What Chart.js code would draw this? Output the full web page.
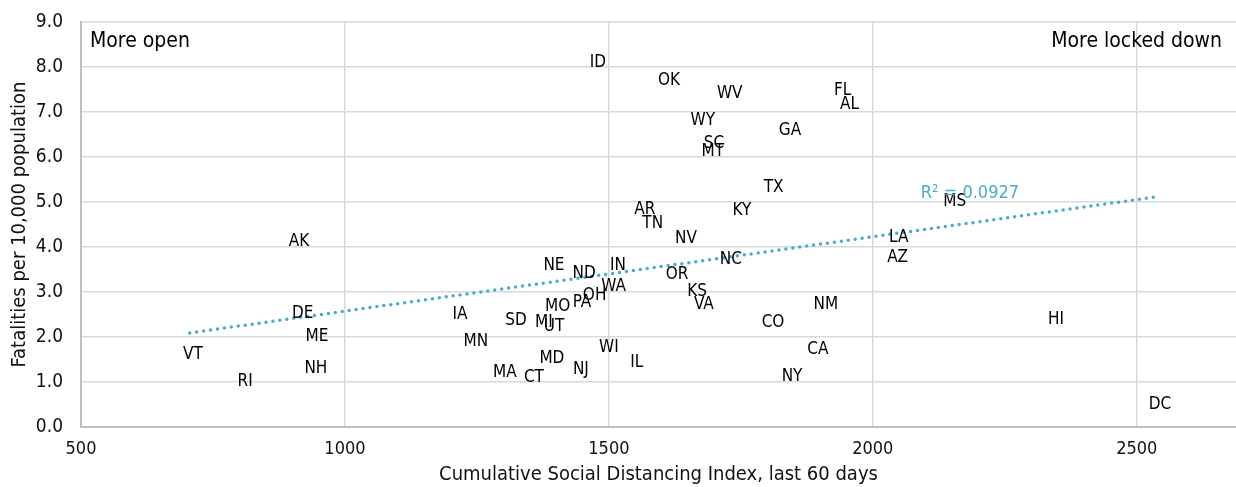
<!DOCTYPE html>
<html>
<head>
<meta charset="utf-8">
<script src="https://cdn.jsdelivr.net/npm/chart.js@4.4.1/dist/chart.umd.min.js"></script>
<style>
  html, body { margin: 0; padding: 0; background: #fff; }
  #wrap { width: 1236px; height: 487px; position: relative; }
</style>
</head>
<body>
<div id="wrap"><canvas id="chart"></canvas></div>
<script>
// State labels, cumulative social distancing index (x), fatalities per 10k (y)
const states = ["ID","OK","WV","WY","SC","MT","GA","FL","AL","TX","KY","AR","TN","NV","MS","LA","AZ","AK",
  "NE","ND","IN","NC","OR","WA","OH","PA","MO","MI","UT","SD","IA","KS","VA","CO","NM","CA","NY","HI","DC",
  "MN","MA","CT","MD","NJ","WI","IL","VT","RI","DE","ME","NH"];
const distIndex = [1479,1614,1729,1678,1699,1697,1843,1943,1956,1812,1752,1568,1583,1646,2155,2049,2047,913,
  1396,1453,1517,1731,1629,1509,1473,1449,1403,1377,1396,1324,1218,1667,1680,1811,1911,1896,1847,2347,2544,
  1248,1303,1358,1392,1447,1500,1553,712,811,920,947,945];
const fatalities = [8.09,7.69,7.40,6.82,6.29,6.11,6.58,7.47,7.16,5.33,4.82,4.84,4.53,4.18,5.00,4.20,3.76,4.11,
  3.58,3.42,3.58,3.71,3.38,3.11,2.91,2.76,2.67,2.33,2.24,2.36,2.49,3.02,2.73,2.33,2.71,1.71,1.13,2.38,0.49,
  1.89,1.20,1.09,1.53,1.27,1.76,1.44,1.62,1.00,2.53,2.00,1.29];

// linear trendline endpoints
const trendX = [706, 2540];
const trendY = [2.09, 5.12];
const rSquared = "R² = 0.0927";

const xTicks = [500, 1000, 1500, 2000, 2500];

const FONT = '"Liberation Sans Narrow", "DejaVu Sans Condensed", "Roboto", sans-serif';
const TEAL = '#4bacc6';

const labelPlugin = {
  id: 'stateLabels',
  afterDatasetsDraw(chart) {
    const ctx = chart.ctx;
    const meta = chart.getDatasetMeta(0);
    ctx.save();
    ctx.font = '17px ' + FONT;
    ctx.fillStyle = '#000';
    ctx.textAlign = 'center';
    ctx.textBaseline = 'middle';
    meta.data.forEach((pt, i) => {
      ctx.fillText(states[i], pt.x, pt.y);
    });

    // R² annotation
    const xs = chart.scales.x, ys = chart.scales.y;
    ctx.fillStyle = TEAL;
    ctx.font = '18px ' + FONT;
    ctx.fillText(rSquared, xs.getPixelForValue(2184), ys.getPixelForValue(5.2));

    // corner notes
    const a = chart.chartArea;
    ctx.fillStyle = '#000';
    ctx.font = '21px ' + FONT;
    ctx.textAlign = 'left';
    ctx.fillText('More open', a.left + 9, a.top + 20);
    ctx.textAlign = 'right';
    ctx.fillText('More locked down', 1222, a.top + 20);
    ctx.restore();
  }
};

new Chart(document.getElementById('chart'), {
  type: 'scatter',
  data: {
    datasets: [
      {
        label: 'States',
        data: states.map((s, i) => ({ x: distIndex[i], y: fatalities[i] })),
        pointRadius: 0,
        pointHoverRadius: 0
      },
      {
        label: 'Trend',
        type: 'line',
        data: trendX.map((x, i) => ({ x: x, y: trendY[i] })),
        borderColor: TEAL,
        borderWidth: 3.5,
        borderDash: [0, 7],
        borderCapStyle: 'round',
        pointRadius: 0,
        fill: false
      }
    ]
  },
  options: {
    responsive: true,
    maintainAspectRatio: false,
    animation: false,
    layout: { padding: { top: 22, right: 0, left: 0, bottom: 0 } },
    plugins: {
      legend: { display: false },
      tooltip: { enabled: false }
    },
    scales: {
      x: {
        type: 'linear',
        min: 500,
        max: 2688,
        afterBuildTicks: (scale) => { scale.ticks = xTicks.map(v => ({ value: v })); },
        afterFit: (scale) => { scale.height = 60; },
        grid: { color: '#d9d9d9', lineWidth: 1.5, drawTicks: false },
        border: { color: '#bfbfbf', width: 2 },
        ticks: { color: '#111', font: { family: FONT, size: 18 }, padding: 12,
          callback: (v) => String(v) },
        title: { display: true, text: 'Cumulative Social Distancing Index, last 60 days',
          color: '#111', font: { family: FONT, size: 20 }, padding: { top: 0, bottom: 0 } }
      },
      y: {
        min: 0,
        max: 9,
        afterFit: (scale) => { scale.width = 81; scale.paddingTop = 0; scale.paddingBottom = 0; },
        grid: { color: '#d9d9d9', lineWidth: 1.5, drawTicks: false },
        border: { color: '#bfbfbf', width: 2 },
        ticks: { stepSize: 1, color: '#111', font: { family: FONT, size: 19 }, padding: 18,
          callback: (v) => v.toFixed(1) },
        title: { display: true, text: 'Fatalities per 10,000 population',
          color: '#111', font: { family: FONT, size: 20 }, padding: { top: 8, bottom: 0 } }
      }
    }
  },
  plugins: [labelPlugin]
});
</script>
</body>
</html>
